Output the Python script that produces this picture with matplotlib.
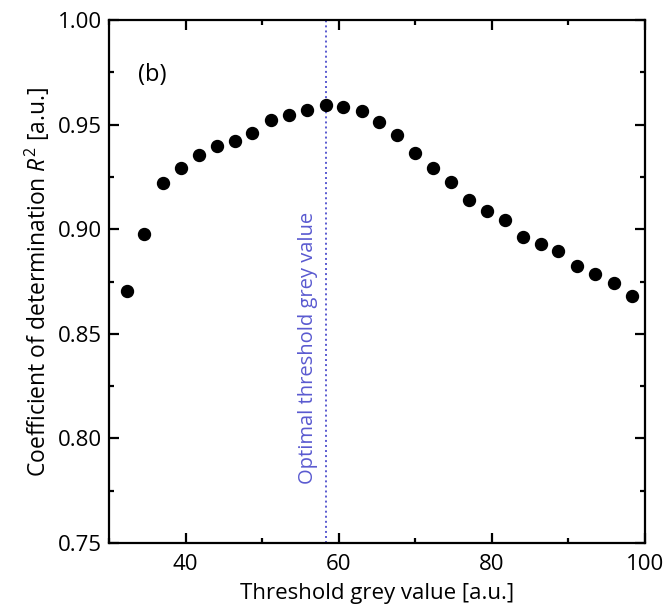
import matplotlib.pyplot as plt
from matplotlib.ticker import MultipleLocator

plt.rcParams['font.family'] = ['Open Sans', 'DejaVu Sans']
plt.rcParams['mathtext.fontset'] = 'custom'
plt.rcParams['mathtext.it'] = 'Open Sans:italic'
plt.rcParams['mathtext.rm'] = 'Open Sans'

# data
threshold = [32.3, 34.6, 37.0, 39.35, 41.7, 44.1, 46.4, 48.7, 51.1, 53.5,
             55.8, 58.3, 60.6, 63.0, 65.3, 67.65, 70.0, 72.3, 74.65, 77.05,
             79.35, 81.7, 84.0, 86.4, 88.7, 91.1, 93.5, 95.9, 98.3]
r2 = [0.8705, 0.8976, 0.9219, 0.9294, 0.9355, 0.9399, 0.9422, 0.9461, 0.9522, 0.9546,
      0.9570, 0.9594, 0.9583, 0.9566, 0.9514, 0.9449, 0.9364, 0.9291, 0.9227, 0.9140,
      0.9087, 0.9042, 0.8964, 0.8928, 0.8896, 0.8826, 0.8784, 0.8741, 0.8681]
optimal = 58.3

# ------------------------------------------------------------------------------- #
fig = plt.figure(figsize=(6.66, 6.08), dpi=100)
fig.subplots_adjust(left=0.1637, right=0.9685, bottom=0.1069, top=0.9671)
ax = fig.add_subplot()

ax.plot(threshold, r2, 'o', color='black', ms=8.6, zorder=3)
ax.axvline(optimal, color='#5a5ad0', ls=(0, (1, 1.6)), lw=1.4, zorder=2)
ax.text(optimal - 1.0, 0.778, 'Optimal threshold grey value', rotation=90,
        ha='right', va='bottom', color='#5a5ad0', fontsize=14.5)
ax.text(35.6, 0.9735, '(b)', ha='center', va='center', fontsize=17)

ax.set_xlim(30, 100)
ax.set_ylim(0.75, 1.00)
ax.xaxis.set_major_locator(MultipleLocator(20))
ax.xaxis.set_minor_locator(MultipleLocator(10))
ax.yaxis.set_major_locator(MultipleLocator(0.05))
ax.yaxis.set_minor_locator(MultipleLocator(0.025))
ax.yaxis.set_major_formatter(lambda v, p: '%.2f' % v)

ax.tick_params(which='both', direction='in', top=True, right=True, width=1.6, labelsize=16)
ax.tick_params(which='major', length=7, pad=5)
ax.tick_params(axis='x', which='major', pad=8)
ax.tick_params(which='minor', length=3.5)
for sp in ax.spines.values():
    sp.set_linewidth(1.6)

ax.set_xlabel('Threshold grey value [a.u.]', fontsize=16, labelpad=6)
ax.set_ylabel('Coefficient of determination $R^2$ [a.u.]', fontsize=16.5, labelpad=4)

plt.savefig('out.png')
